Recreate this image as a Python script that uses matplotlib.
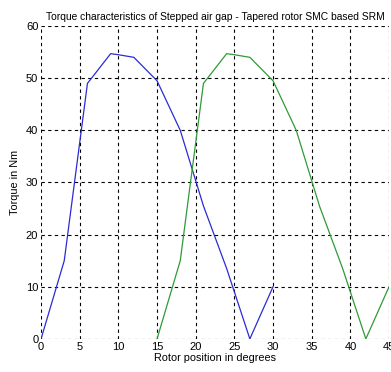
import matplotlib
matplotlib.use("Agg")
import matplotlib.pyplot as plt

# phase A (blue) and phase B (green) torque vs rotor position
pos_a = [0, 3, 6, 9, 10, 12, 15, 18, 21, 24, 27, 30]
torque_a = [0, 15, 49, 54.7, 54.5, 54, 49.5, 40, 25.5, 13.5, 0, 10]

pos_b = [15, 18, 21, 24, 25, 27, 30, 33, 36, 39, 42, 45]
torque_b = [0, 15, 49, 54.7, 54.5, 54, 49.5, 40, 25.5, 13.5, 0, 10]

x_ticks = [0, 5, 10, 15, 20, 25, 30, 35, 40, 45]
y_ticks = [0, 10, 20, 30, 40, 50, 60]

plt.rcParams["font.family"] = ["Liberation Sans", "DejaVu Sans"]

fig = plt.figure(figsize=(3.91, 3.72), dpi=100)
ax = fig.add_axes([0.105, 0.089, 0.89, 0.841])

ax.plot(pos_a, torque_a, color="#2b2bd6", lw=0.9)
ax.plot(pos_b, torque_b, color="#2f9a36", lw=0.9)

ax.set_xlim(0, 45)
ax.set_ylim(0, 60)
ax.set_xticks(x_ticks)
ax.set_yticks(y_ticks)
ax.grid(True, color="black", linestyle=(0, (3, 3)), lw=0.8)
for s in ax.spines.values():
  s.set_visible(False)
ax.tick_params(length=0, labelsize=8, pad=2)

ax.set_title("Torque characteristics of Stepped air gap - Tapered rotor SMC based SRM",
             fontsize=7.4, pad=4)
ax.set_xlabel("Rotor position in degrees", fontsize=7.8, labelpad=1)
ax.set_ylabel("Torque in Nm", fontsize=7.8, labelpad=4)

fig.savefig("out.png", dpi=100, facecolor="white")
